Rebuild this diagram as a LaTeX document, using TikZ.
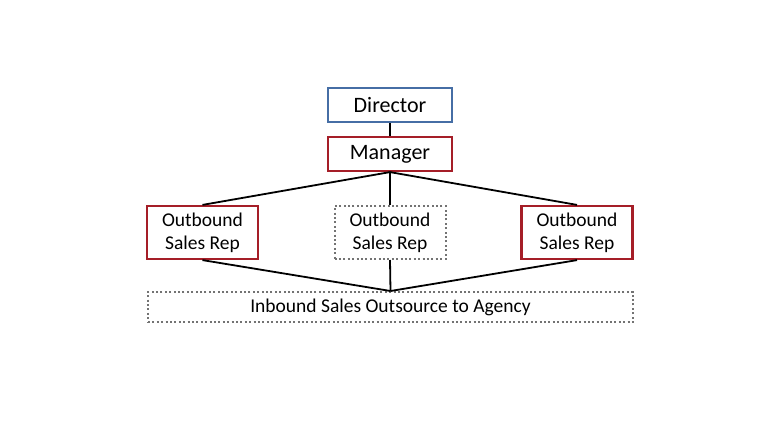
\documentclass[tikz,border=0pt]{standalone}
\usepackage{fontspec}
\setmainfont{Carlito}
\usetikzlibrary{positioning}
\definecolor{dirblue}{RGB}{70,110,165}
\definecolor{mgrred}{RGB}{165,30,40}

\begin{document}
\begin{tikzpicture}[x=1pt, y=-1pt,
    every node/.style={font=\fontsize{19.5}{23}\selectfont, inner sep=0pt, align=center},
    redbox/.style={draw=mgrred, line width=2.2pt},
    dotbox/.style={draw=black!55, line width=2pt, dash pattern=on 2pt off 2.4pt},
    link/.style={black, line width=1.8pt}]
  \useasboundingbox[fill=white] (0,0) rectangle (780,440);

  % Top of the chart
  \node[draw=dirblue, line width=2.2pt, minimum width=124pt, minimum height=34pt,
        font=\fontsize{22}{26}\selectfont] (director) at (390,105) {Director};
  \node[redbox, minimum width=124pt, minimum height=34pt,
        font=\fontsize{22}{26}\selectfont] (manager) at (390,154) {Manager};

  % Sales reps
  \node[redbox, minimum width=111pt, minimum height=53pt] (repleft) at (202.5,232.5) {Outbound\\Sales Rep};
  \node[dotbox, minimum width=111pt, minimum height=53pt] (repmid) at (390,232.5) {Outbound\\Sales Rep};
  \node[redbox, minimum width=111pt, minimum height=53pt] (repright) at (577,232.5) {Outbound\\Sales Rep};

  % Agency
  \node[dotbox, minimum width=485pt, minimum height=30pt] (agency) at (390.5,307) {Inbound Sales Outsource to Agency};

  % Connectors
  \draw[link] (director.south) -- (manager.north);
  \foreach \r in {repleft, repmid, repright} {
    \draw[link] (manager.south) -- (\r.north);
    \draw[link] (\r.south) -- (agency.north);
  }
\end{tikzpicture}
\end{document}
